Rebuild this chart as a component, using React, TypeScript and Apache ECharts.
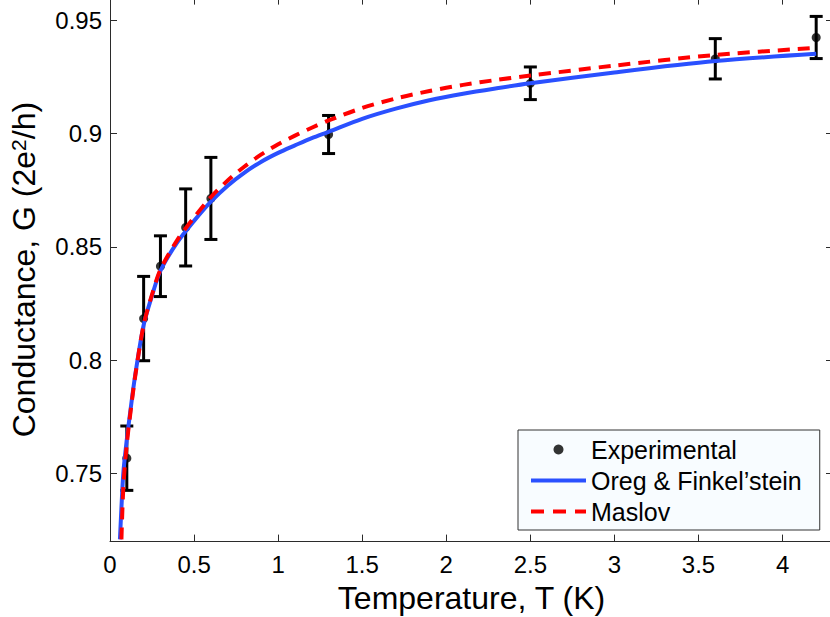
import React, { useEffect, useRef } from "react";
import * as echarts from "echarts";

// Experimental data (T in K, G in 2e^2/h, error half-width)
const expT = [0.1, 0.2, 0.3, 0.45, 0.6, 1.3, 2.5, 3.6, 4.2];
const expG = [0.7568, 0.8184, 0.8415, 0.8586, 0.8714, 0.8996, 0.9222, 0.933, 0.9424];
const expErr = [0.0142, 0.0186, 0.0134, 0.017, 0.0181, 0.0084, 0.0072, 0.0089, 0.0093];

// Oreg & Finkel'stein curve
const ofT = [0.059, 0.07, 0.08, 0.1, 0.12, 0.15, 0.2, 0.25, 0.3, 0.4, 0.5, 0.6, 0.7, 0.8, 0.9, 1.0, 1.1, 1.2, 1.3, 1.5, 1.7, 1.9, 2.1, 2.3, 2.5, 3.0, 3.6, 4.2];
const ofG = [0.721, 0.738, 0.751, 0.765, 0.777, 0.7935, 0.8155, 0.8285, 0.8395, 0.852, 0.8615, 0.870, 0.877, 0.8828, 0.8876, 0.8915, 0.8948, 0.898, 0.9008, 0.9065, 0.911, 0.9147, 0.9176, 0.920, 0.9222, 0.927, 0.932, 0.9352];

// Maslov curve
const mT = [0.068, 0.08, 0.1, 0.12, 0.15, 0.2, 0.25, 0.3, 0.4, 0.5, 0.6, 0.7, 0.8, 0.9, 1.0, 1.1, 1.2, 1.3, 1.5, 1.7, 1.9, 2.1, 2.3, 2.5, 3.0, 3.6, 4.2];
const mG = [0.721, 0.745, 0.763, 0.776, 0.793, 0.8155, 0.829, 0.840, 0.853, 0.863, 0.872, 0.8793, 0.8855, 0.8908, 0.8953, 0.8991, 0.9026, 0.9058, 0.9113, 0.9155, 0.9188, 0.9215, 0.9237, 0.9256, 0.930, 0.9347, 0.9378];

// Tick values
const xTicks = [0, 0.5, 1, 1.5, 2, 2.5, 3, 3.5, 4];
const yTicks = [0.75, 0.8, 0.85, 0.9, 0.95];

const seriesNames = ["Experimental", "Oreg & Finkel\u2019stein", "Maslov"];

const FONT = "'Liberation Sans', Arial, Helvetica, sans-serif";
const AXIS_COLOR = "#2b2b2b";
const BLUE = "#2a50ff";
const RED = "#ff0000";

export default function App() {
  const ref = useRef<HTMLDivElement>(null);

  useEffect(() => {
    if (!ref.current) return;
    const chart = echarts.init(ref.current, undefined, { renderer: "svg" });

    const errorData = expT.map((t, i) => [t, expG[i] - expErr[i], expG[i] + expErr[i]]);
    const dotData = expT.map((t, i) => [t, expG[i]]);
    const ofData = ofT.map((t, i) => [t, ofG[i]]);
    const mData = mT.map((t, i) => [t, mG[i]]);

    const xBase = {
      type: "value",
      min: 0,
      max: 4.3,
      splitLine: { show: false },
      axisLine: { show: true, onZero: false, lineStyle: { color: AXIS_COLOR, width: 1 } },
      axisTick: { show: true, inside: true, length: 7, lineStyle: { color: AXIS_COLOR }, customValues: xTicks },
    };
    const yBase = {
      type: "value",
      min: 0.72,
      max: 0.96,
      splitLine: { show: false },
      axisLine: { show: true, onZero: false, lineStyle: { color: AXIS_COLOR, width: 1 } },
      axisTick: { show: true, inside: true, length: 7, lineStyle: { color: AXIS_COLOR }, customValues: yTicks },
    };

    chart.setOption({
      animation: false,
      backgroundColor: "#ffffff",
      textStyle: { fontFamily: FONT },
      grid: {
        left: 110,
        top: -2.4,
        width: 723,
        height: 544,
        containLabel: false,
        outerBoundsMode: "none",
      },
      xAxis: [
        {
          ...xBase,
          position: "bottom",
          name: "Temperature, T (K)",
          nameLocation: "middle",
          nameGap: 37,
          nameTextStyle: { fontSize: 32, color: "#000", fontFamily: FONT },
          axisLabel: {
            show: true,
            fontSize: 24,
            color: "#000",
            margin: 11,
            fontFamily: FONT,
            customValues: xTicks,
          },
        },
        {
          ...xBase,
          position: "top",
          axisLabel: { show: false },
        },
      ],
      yAxis: [
        {
          ...yBase,
          position: "left",
          name: "Conductance, G (2e{sup|2}/h)",
          nameLocation: "middle",
          nameGap: 70,
          nameRotate: 90,
          nameTextStyle: {
            fontSize: 32,
            color: "#000",
            fontFamily: FONT,
            rich: {
              sup: { fontSize: 21, color: "#000", fontFamily: FONT, verticalAlign: "top" },
            },
          },
          axisLabel: {
            show: true,
            fontSize: 24,
            color: "#000",
            margin: 8,
            fontFamily: FONT,
            customValues: yTicks,
          },
        },
        {
          ...yBase,
          position: "right",
          axisLabel: { show: false },
        },
      ],
      legend: {
        show: true,
        orient: "vertical",
        left: 518,
        top: 430,
        padding: [7, 18, 6, 11],
        itemGap: 6,
        itemWidth: 55,
        itemHeight: 10,
        backgroundColor: "#f8fcff",
        borderColor: "#333333",
        borderWidth: 1,
        borderRadius: 0,
        textStyle: { fontSize: 25, color: "#000", fontFamily: FONT },
        data: [
          { name: seriesNames[0], icon: "circle" },
          { name: seriesNames[1], itemStyle: { opacity: 0 }, lineStyle: { width: 4, color: BLUE } },
          { name: seriesNames[2], itemStyle: { opacity: 0 }, lineStyle: { width: 4, color: RED, type: [13, 9] } },
        ],
      },
      series: [
        {
          type: "custom",
          name: "errorbars",
          xAxisIndex: 0,
          yAxisIndex: 0,
          data: errorData,
          z: 2,
          renderItem: (params: any, api: any) => {
            const x = api.value(0);
            const lo = api.coord([x, api.value(1)]);
            const hi = api.coord([x, api.value(2)]);
            const cap = 6.5;
            const style = { stroke: "#000", lineWidth: 3 };
            return {
              type: "group",
              children: [
                { type: "line", shape: { x1: lo[0], y1: lo[1], x2: hi[0], y2: hi[1] }, style },
                { type: "line", shape: { x1: lo[0] - cap, y1: lo[1], x2: lo[0] + cap, y2: lo[1] }, style },
                { type: "line", shape: { x1: hi[0] - cap, y1: hi[1], x2: hi[0] + cap, y2: hi[1] }, style },
              ],
            };
          },
        },
        {
          type: "scatter",
          name: seriesNames[0],
          data: dotData,
          symbol: "circle",
          symbolSize: 9,
          itemStyle: { color: "#000" },
          z: 3,
        },
        {
          type: "line",
          name: seriesNames[1],
          data: ofData,
          smooth: 0.3,
          symbol: "none",
          showSymbol: false,
          lineStyle: { color: BLUE, width: 4 },
          itemStyle: { color: BLUE },
          z: 4,
        },
        {
          type: "line",
          name: seriesNames[2],
          data: mData,
          smooth: 0.3,
          symbol: "none",
          showSymbol: false,
          lineStyle: { color: RED, width: 4, type: [12, 8] },
          itemStyle: { color: RED },
          z: 5,
        },
      ],
    });

    return () => {
      chart.dispose();
    };
  }, []);

  return (
    <div
      ref={ref}
      style={{ position: "absolute", left: 0, top: 0, width: 830, height: 617, background: "#fff" }}
    />
  );
}
